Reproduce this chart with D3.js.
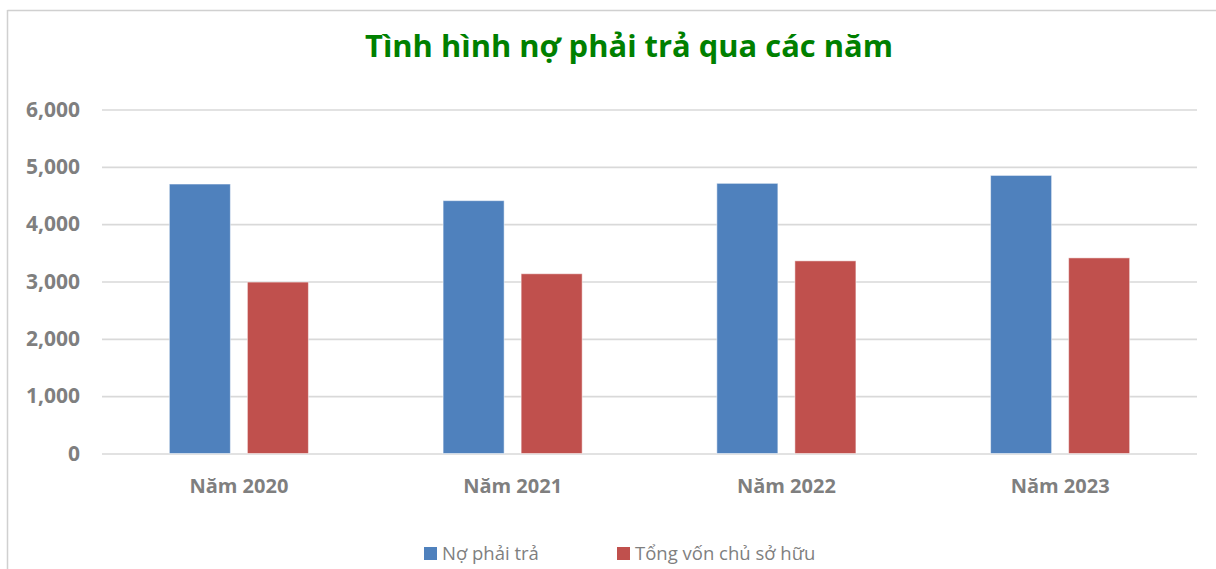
<!DOCTYPE html>
<html>
<head>
<meta charset="utf-8">
<script src="https://cdn.jsdelivr.net/npm/d3@7"></script>
<style>
  body { margin: 0; background: #fff; }
  svg { display: block; }
</style>
</head>
<body>
<svg id="chart" width="1216" height="569"></svg>
<script>
// data
var years = ["Năm 2020", "Năm 2021", "Năm 2022", "Năm 2023"];
var seriesNames = ["Nợ phải trả", "Tổng vốn chủ sở hữu"];
var noPhaiTra = [4700, 4410, 4712, 4850];
var tongVon = [2990, 3135, 3360, 3412];
var yTicks = [0, 1000, 2000, 3000, 4000, 5000, 6000];
var colors = ["#4f81bd", "#c0504d"];

var svg = d3.select("#chart");
var margin = {top: 109.5, right: 19, bottom: 115.5, left: 102},
    width = 1216 - margin.left - margin.right,
    height = 569 - margin.top - margin.bottom;

// frame of the chart box
svg.append("line").attr("x1", 7.5).attr("x2", 1216).attr("y1", 10.5).attr("y2", 10.5)
    .attr("stroke", "#d0d0d0").attr("stroke-width", 1.5);
svg.append("line").attr("x1", 7.5).attr("x2", 7.5).attr("y1", 10).attr("y2", 569)
    .attr("stroke", "#d0d0d0").attr("stroke-width", 1.5);

svg.append("text")
    .attr("x", 629).attr("y", 57)
    .attr("text-anchor", "middle")
    .attr("textLength", 528).attr("lengthAdjust", "spacingAndGlyphs")
    .attr("font-family", "Open Sans, sans-serif")
    .attr("font-weight", "bold")
    .attr("font-size", "30px")
    .attr("fill", "#008000")
    .text("Tình hình nợ phải trả qua các năm");

var g = svg.append("g").attr("transform", "translate(" + margin.left + "," + margin.top + ")");

var y = d3.scaleLinear().domain([0, 6000]).range([height, 0]);
var x0 = d3.scaleBand().domain(years).range([0, width]).paddingInner(0.492).paddingOuter(0.246);
var x1 = d3.scaleBand().domain(seriesNames).range([0, x0.bandwidth()]).paddingInner(0.218).paddingOuter(0);

var yAxis = g.append("g")
    .call(d3.axisLeft(y).tickValues(yTicks).tickFormat(d3.format(",")).tickSize(-width).tickPadding(22));
yAxis.select(".domain").remove();
yAxis.selectAll(".tick line").attr("stroke", "#d9d9d9").attr("stroke-width", 1.6);
yAxis.selectAll(".tick text")
    .attr("font-family", "Open Sans, sans-serif")
    .attr("font-weight", "bold")
    .attr("font-size", "21px")
    .attr("fill", "#7f7f7f");

var rows = years.map(function(d, i) { return {year: d, values: [noPhaiTra[i], tongVon[i]]}; });

var groups = g.selectAll(".grp").data(rows).enter().append("g")
    .attr("class", "grp")
    .attr("transform", function(d) { return "translate(" + x0(d.year) + ",0)"; });

groups.selectAll("rect")
    .data(function(d) { return d.values.map(function(v, i) { return {name: seriesNames[i], value: v, idx: i}; }); })
    .enter().append("rect")
    .attr("x", function(d) { return x1(d.name); })
    .attr("y", function(d) { return y(d.value); })
    .attr("width", x1.bandwidth())
    .attr("height", function(d) { return height - y(d.value); })
    .attr("fill", function(d) { return colors[d.idx]; })
    .attr("stroke", "#ffffff").attr("stroke-opacity", 0.5).attr("stroke-width", 1);

var xAxis = g.append("g").attr("transform", "translate(0," + height + ")")
    .call(d3.axisBottom(x0).tickSize(0).tickPadding(25));
xAxis.select(".domain").remove();
xAxis.selectAll(".tick text")
    .attr("font-family", "Open Sans, sans-serif")
    .attr("font-weight", "bold")
    .attr("font-size", "20px")
    .attr("fill", "#7f7f7f");

// legend
var legendX = [424, 617];
var legend = svg.selectAll(".legend").data(seriesNames).enter().append("g")
    .attr("class", "legend")
    .attr("transform", function(d, i) { return "translate(" + legendX[i] + ",547)"; });
legend.append("rect").attr("width", 13).attr("height", 13)
    .attr("fill", function(d, i) { return colors[i]; });
legend.append("text")
    .attr("x", 18).attr("y", 12.5)
    .attr("font-family", "Open Sans, sans-serif")
    .attr("font-size", "18.5px")
    .attr("fill", "#7f7f7f")
    .text(function(d) { return d; });
</script>
</body>
</html>
